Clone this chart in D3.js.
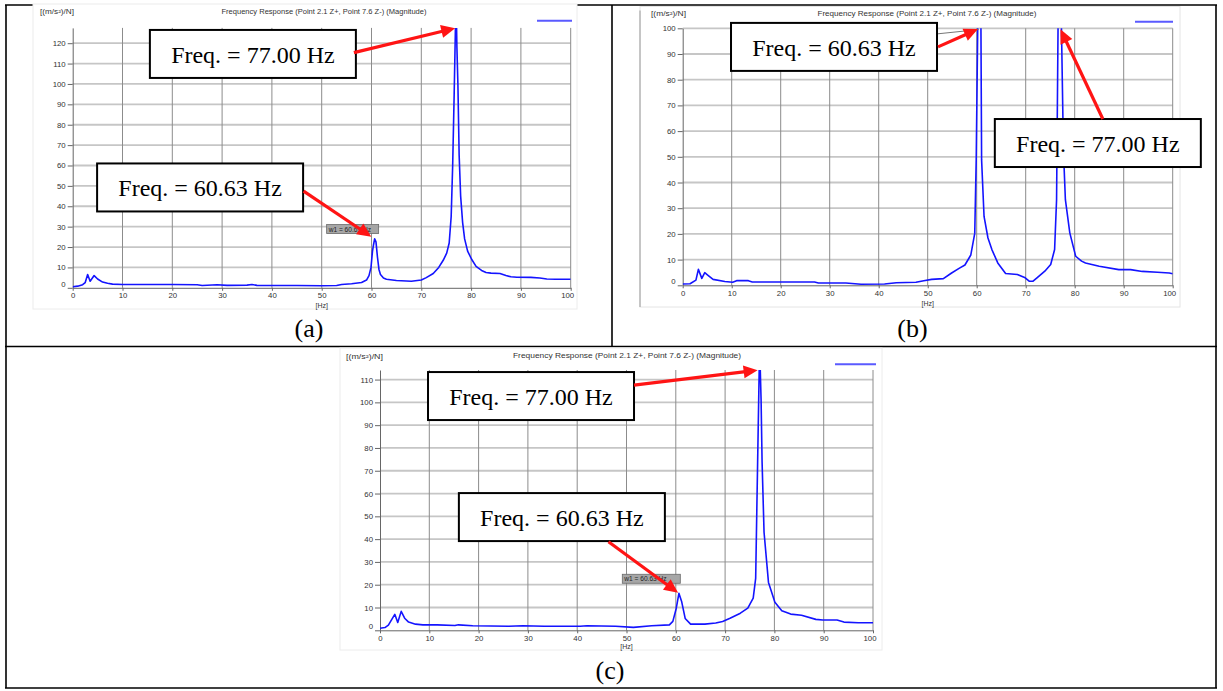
<!DOCTYPE html>
<html>
<head>
<meta charset="utf-8">
<script src="https://cdn.jsdelivr.net/npm/d3@7"></script>
<style>
  html, body { margin: 0; padding: 0; background: #fff; }
  svg { display: block; }
</style>
</head>
<body>
<svg id="fig" width="1223" height="691"></svg>
<script>
// ---------- data ----------
// (a) magnitude spectrum
const freqA = [0, 1, 2, 2.5, 3, 3.5, 4.3, 5, 6, 7, 8, 10, 15, 20, 25, 26, 29, 31, 35, 36, 37, 45, 50, 53, 54, 56, 58, 59, 59.5, 59.9,
  60.2, 60.4, 60.63, 60.9, 61.2, 61.5, 61.8, 62.4, 63, 65, 68, 70, 71, 72.4, 73.5, 74.4, 75.1, 75.6, 76.0, 76.3,
  76.6, 76.85, 77.0, 77.15, 77.35, 77.6, 77.9, 78.3, 78.7, 79.3, 80.1, 81, 82.1, 83, 84, 85.8, 87, 88, 89.2, 92,
  93.8, 95.2, 97, 100];
const magA = [0.5, 0.8, 1.5, 2.5, 6.5, 3.2, 6.0, 4.3, 2.8, 2.2, 1.8, 1.6, 1.6, 1.6, 1.5, 1.1, 1.5, 1.2, 1.3, 1.6, 1.2, 1.1, 1.0, 1.1, 1.6, 2.0, 2.6, 3.8, 6.0, 10,
  18, 21, 24, 22.5, 15, 9, 6.5, 4.8, 4.2, 3.6, 3.2, 3.8, 5.0, 7.0, 10, 13.5, 17, 22, 35, 60,
  95, 127, 140, 118, 100, 65, 45, 32, 24, 18, 14, 10.5, 8.5, 7.5, 7.2, 7.0, 6.0, 5.4, 5.2, 5.1,
  4.8, 4.3, 4.2, 4.2];

// (b) magnitude spectrum
const freqB = [0, 1.5, 2.7, 3.2, 3.9, 4.5, 5.1, 6.2, 8.6, 10.2, 11, 13.4, 14.2, 19.7, 26.9, 27.7, 33.3, 36.4, 41.2, 43.6,
  47.6, 49.2, 50.8, 53.2, 54.8, 56.4, 57.6, 58.8, 59.6, 59.9, 60.2, 60.45, 60.63, 60.8, 61.0, 61.5, 62.3, 63.1, 64.3, 65.9,
  68.3, 69.9, 70.7, 71.5, 72.3, 73.9, 75.1, 75.9, 76.3, 76.6, 77.0, 77.3, 77.7, 78.1, 79.0, 80.2, 81.4, 82.2, 85, 89,
  91.4, 93.8, 96.9, 99.3, 100];
const magB = [0.5, 0.6, 2, 6.2, 2.7, 4.9, 4.0, 2.3, 1.5, 1.2, 1.8, 1.8, 1.3, 1.3, 1.3, 0.9, 0.9, 0.4, 0.5, 1.0,
  1.2, 1.8, 2.3, 2.6, 4.7, 6.6, 7.9, 11.8, 20.2, 48.8, 99, 125, 140, 125, 48.8, 26.8, 18.4, 13.9, 8.7, 4.6,
  4.2, 2.9, 1.6, 1.6, 2.9, 5.5, 8.1, 13.9, 33.3, 100, 140, 100, 52.5, 33.3, 20.4, 11.3, 9.4, 8.7, 7.4, 6.1,
  6.1, 5.4, 5.1, 4.8, 4.5];

// (c) magnitude spectrum
const freqC = [0, 1.0, 1.7, 3.0, 3.6, 4.3, 5.0, 5.8, 7.2, 8.7, 11.6, 15.2, 15.9, 18.8, 26.1, 29, 33.3, 40.6, 42, 47.8,
  51.4, 55.1, 58.7, 59.4, 60.1, 60.63, 61.2, 61.9, 63, 65.9, 68.1, 69.5, 71, 73.1, 74.6, 75.7, 76.2, 76.6, 77.0, 77.3,
  77.5, 77.9, 78.8, 80.1, 81.5, 83.3, 85.5, 88.4, 89.8, 92.7, 94.1, 97, 100];
const magC = [0.9, 1.2, 2.3, 7.0, 3.4, 8.3, 5.3, 3.6, 2.7, 2.4, 2.4, 2.1, 2.4, 2.0, 1.8, 2.0, 1.8, 1.8, 2.0, 1.8,
  1.3, 2.0, 2.4, 3.9, 9.7, 16.2, 12.5, 5.2, 2.7, 2.7, 3.2, 3.9, 5.3, 7.5, 9.7, 14.1, 22.8, 74, 125, 101,
  74, 43, 21, 12.3, 8.6, 7.1, 6.6, 4.8, 4.5, 4.5, 3.6, 3.3, 3.3];

// axis ticks
const xTicks = [0, 10, 20, 30, 40, 50, 60, 70, 80, 90, 100];
const yTicksA = [0, 10, 20, 30, 40, 50, 60, 70, 80, 90, 100, 110, 120];
const yTicksB = [0, 10, 20, 30, 40, 50, 60, 70, 80, 90, 100];
const yTicksC = [0, 10, 20, 30, 40, 50, 60, 70, 80, 90, 100, 110];

// texts
const chartTitle = "Frequency Response (Point 2.1 Z+, Point 7.6 Z-) (Magnitude)";
const unitLabel = "[(m/s²)/N]";
const xUnit = "[Hz]";
const peakLabels = ["Freq. = 60.63 Hz", "Freq. = 77.00 Hz"];
const markerLabel = "w1 = 60.63 Hz";
const captions = ["(a)", "(b)", "(c)"];

// ---------- drawing ----------
const svg = d3.select("#fig");
const SANS = "'Liberation Sans', Arial, sans-serif";
const SERIF = "'Liberation Serif', 'Times New Roman', serif";
const RED = "#ff1414";
const BLUE = "#1414ff";
const TICK_FONT = 7.8;

svg.append("rect").attr("width", 1223).attr("height", 691).attr("fill", "#fff");

// table rules around the three cells
const rules = [
  [5, 5, 1217, 5], [5, 346.5, 1217, 346.5], [5, 688, 1217, 688],
  [6, 5, 6, 688], [1216, 5, 1216, 688], [612, 5, 612, 346.5]
];
svg.append("g").selectAll("line").data(rules).join("line")
  .attr("x1", d => d[0]).attr("y1", d => d[1]).attr("x2", d => d[2]).attr("y2", d => d[3])
  .attr("stroke", "#000").attr("stroke-width", 1.6);

const panels = [
  {
    freq: freqA, mag: magA, yMax: 127.5, yTicks: yTicksA, caption: captions[0],
    frame: { x: 33, y: 4, w: 544, h: 305, edge: "#ececec" },
    plot: { l: 72.7, r: 570.7, t: 27.9, b: 287.8 },
    unitPos: { x: 40, y: 13.8, len: 34 },
    titlePos: { cx: 324, y: 14, len: 205 },
    legendPos: { x1: 537, x2: 572, y: 20.7 },
    hzY: 308.3, captionPos: { x: 309, y: 337 },
    boxes: [
      { label: 1, f: 15.5, v: 126.5, tail: [204, 22.7], target: [77, 127.5], gap: 1 },
      { label: 0, f: 4.9, v: 61, tail: [206.5, 27.7], target: [60.63, 24], gap: 4 }
    ],
    marker: { f: 60.63, v: 24, dx: -48, dy: -14.3, w: 52, h: 9 }
  },
  {
    freq: freqB, mag: magB, yMax: 100, yTicks: yTicksB, caption: captions[1],
    frame: { x: 640, y: 6.5, w: 540, h: 300.5, edge: "#e4e4e4", leftEdge: "#9a9a9a" },
    plot: { l: 682.7, r: 1172.7, t: 28.3, b: 285.3 },
    unitPos: { x: 651, y: 16, len: 35 },
    titlePos: { cx: 927, y: 15.5, len: 219 },
    legendPos: { x1: 1135, x2: 1173, y: 21.7 },
    hzY: 305.6, captionPos: { x: 912.5, y: 337 },
    boxes: [
      { label: 0, f: 9.86, v: 102.1, tail: [207, 24], target: [60.63, 100], gap: 2, leader: { from: [206, 11], to: [60.4, 99.5] } },
      { label: 1, f: 63.7, v: 64.7, tail: [108, 0], target: [77, 100], gap: 1 }
    ]
  },
  {
    freq: freqC, mag: magC, yMax: 114.2, yTicks: yTicksC, caption: captions[2],
    frame: { x: 340, y: 348, w: 542, h: 302, edge: "#ececec" },
    plot: { l: 380, r: 873, t: 370, b: 630.3 },
    unitPos: { x: 346, y: 358.5, len: 37 },
    titlePos: { cx: 627, y: 358, len: 228 },
    legendPos: { x1: 835, x2: 876, y: 364.3 },
    hzY: 649.2, captionPos: { x: 610, y: 679 },
    boxes: [
      { label: 1, f: 9.74, v: 113.3, tail: [206, 13], target: [77, 114.2], gap: 2 },
      { label: 0, f: 16.0, v: 60.2, tail: [149.6, 48.7], target: [60.63, 16.2], gap: 1 }
    ],
    marker: { f: 60.63, v: 16.2, dx: -56.6, dy: -19.1, w: 58, h: 9 }
  }
];

function drawArrow(g, x0, y0, x1, y1) {
  const dx = x1 - x0, dy = y1 - y0, len = Math.hypot(dx, dy);
  const ux = dx / len, uy = dy / len;
  const hl = 14, hw = 6.5;
  const bx = x1 - ux * hl, by = y1 - uy * hl;
  g.append("line")
    .attr("x1", x0).attr("y1", y0).attr("x2", bx + ux * 2).attr("y2", by + uy * 2)
    .attr("stroke", RED).attr("stroke-width", 3.2);
  g.append("path")
    .attr("d", `M${x1},${y1}L${bx - uy * hw},${by + ux * hw}L${bx + uy * hw},${by - ux * hw}Z`)
    .attr("fill", RED);
}

panels.forEach((p, pi) => {
  const g = svg.append("g");
  const x = d3.scaleLinear().domain([0, 100]).range([p.plot.l, p.plot.r]);
  const y = d3.scaleLinear().domain([0, p.yMax]).range([p.plot.b, p.plot.t]);

  // chart background
  g.append("rect")
    .attr("x", p.frame.x).attr("y", p.frame.y).attr("width", p.frame.w).attr("height", p.frame.h)
    .attr("fill", "#fff").attr("stroke", p.frame.edge).attr("stroke-width", 1);
  if (p.frame.leftEdge) {
    g.append("line")
      .attr("x1", p.frame.x).attr("x2", p.frame.x)
      .attr("y1", p.frame.y + 4).attr("y2", p.frame.y + p.frame.h)
      .attr("stroke", p.frame.leftEdge).attr("stroke-width", 1);
  }

  // header texts
  g.append("text")
    .attr("x", p.unitPos.x).attr("y", p.unitPos.y)
    .attr("textLength", p.unitPos.len).attr("lengthAdjust", "spacingAndGlyphs")
    .attr("font-family", SANS).attr("font-size", 7).attr("fill", "#333")
    .text(unitLabel);
  g.append("text")
    .attr("x", p.titlePos.cx - p.titlePos.len / 2).attr("y", p.titlePos.y)
    .attr("textLength", p.titlePos.len).attr("lengthAdjust", "spacingAndGlyphs")
    .attr("font-family", SANS).attr("font-size", 7).attr("fill", "#333")
    .text(chartTitle);
  g.append("line")
    .attr("x1", p.legendPos.x1).attr("x2", p.legendPos.x2)
    .attr("y1", p.legendPos.y).attr("y2", p.legendPos.y)
    .attr("stroke", "#5a5aff").attr("stroke-width", 2);

  // grid
  g.append("g").selectAll("line").data(p.yTicks.filter(d => d > 0)).join("line")
    .attr("x1", p.plot.l).attr("x2", p.plot.r)
    .attr("y1", d => y(d)).attr("y2", d => y(d))
    .attr("stroke", "#c6c6c6").attr("stroke-width", 1.8);
  g.append("g").selectAll("line").data(xTicks.filter(d => d > 0)).join("line")
    .attr("x1", d => x(d)).attr("x2", d => x(d))
    .attr("y1", p.plot.t).attr("y2", p.plot.b)
    .attr("stroke", "#8c8c8c").attr("stroke-width", 1);

  // axes
  const yAxis = g.append("g")
    .attr("transform", `translate(${p.plot.l},0)`)
    .call(d3.axisLeft(y).tickValues(p.yTicks).tickSize(5).tickSizeOuter(0).tickPadding(2));
  const xAxis = g.append("g")
    .attr("transform", `translate(0,${p.plot.b})`)
    .call(d3.axisBottom(x).tickValues(xTicks).tickSize(3).tickSizeOuter(0).tickPadding(2));
  [yAxis, xAxis].forEach(a => {
    a.select(".domain").attr("stroke", "#666").attr("stroke-width", 1);
    a.selectAll(".tick line").attr("stroke", "#666");
    a.selectAll(".tick text").attr("font-family", SANS).attr("font-size", TICK_FONT).attr("fill", "#333");
  });
  // zero label sits slightly above the baseline, last x label is kept inside the plot
  yAxis.selectAll(".tick text").filter(d => d === 0).attr("y", -4);
  xAxis.selectAll(".tick text").filter(d => d === 100).attr("text-anchor", "end").attr("x", 3);

  g.append("text")
    .attr("x", x(50)).attr("y", p.hzY)
    .attr("text-anchor", "middle")
    .attr("font-family", SANS).attr("font-size", 7).attr("fill", "#333")
    .text(xUnit);

  // response curve
  const clipId = "clip" + pi;
  g.append("clipPath").attr("id", clipId).append("rect")
    .attr("x", p.plot.l).attr("y", p.plot.t)
    .attr("width", p.plot.r - p.plot.l).attr("height", p.plot.b - p.plot.t + 2);
  const line = d3.line()
    .x(i => x(p.freq[i]))
    .y(i => y(p.mag[i]));
  g.append("path")
    .attr("clip-path", `url(#${clipId})`)
    .attr("d", line(d3.range(p.freq.length)))
    .attr("fill", "none").attr("stroke", BLUE).attr("stroke-width", 1.6)
    .attr("stroke-linejoin", "round");

  // peak marker tag
  if (p.marker) {
    const mx = x(p.marker.f) + p.marker.dx, my = y(p.marker.v) + p.marker.dy;
    g.append("rect")
      .attr("x", mx).attr("y", my).attr("width", p.marker.w).attr("height", p.marker.h)
      .attr("fill", "#a6a6a6").attr("stroke", "#6a6a6a").attr("stroke-width", 0.8);
    g.append("text")
      .attr("x", mx + 2).attr("y", my + 7)
      .attr("font-family", SANS).attr("font-size", 6.6).attr("fill", "#1e1e1e")
      .text(markerLabel);
  }

  // annotation boxes and arrows
  p.boxes.forEach(b => {
    const bx = x(b.f), by = y(b.v);
    if (b.leader) {
      g.append("line")
        .attr("x1", bx + b.leader.from[0]).attr("y1", by + b.leader.from[1])
        .attr("x2", x(b.leader.to[0])).attr("y2", y(b.leader.to[1]))
        .attr("stroke", "#777").attr("stroke-width", 1);
    }
    g.append("rect")
      .attr("x", bx).attr("y", by).attr("width", 206).attr("height", 48)
      .attr("fill", "#fff").attr("stroke", "#000").attr("stroke-width", 2);
    g.append("text")
      .attr("x", bx + 103).attr("y", by + 33)
      .attr("text-anchor", "middle")
      .attr("font-family", SERIF).attr("font-size", 24).attr("fill", "#000")
      .text(peakLabels[b.label]);
  });
  p.boxes.forEach(b => {
    const bx = x(b.f), by = y(b.v);
    const tx = bx + b.tail[0], ty = by + b.tail[1];
    let hx = x(b.target[0]), hy = y(Math.min(b.target[1], p.yMax));
    const d = Math.hypot(hx - tx, hy - ty);
    hx -= (hx - tx) / d * b.gap; hy -= (hy - ty) / d * b.gap;
    drawArrow(g, tx, ty, hx, hy);
  });

  // caption
  svg.append("text")
    .attr("x", p.captionPos.x).attr("y", p.captionPos.y)
    .attr("text-anchor", "middle")
    .attr("font-family", SERIF).attr("font-size", 26).attr("fill", "#000")
    .text(p.caption);
});
</script>
</body>
</html>
